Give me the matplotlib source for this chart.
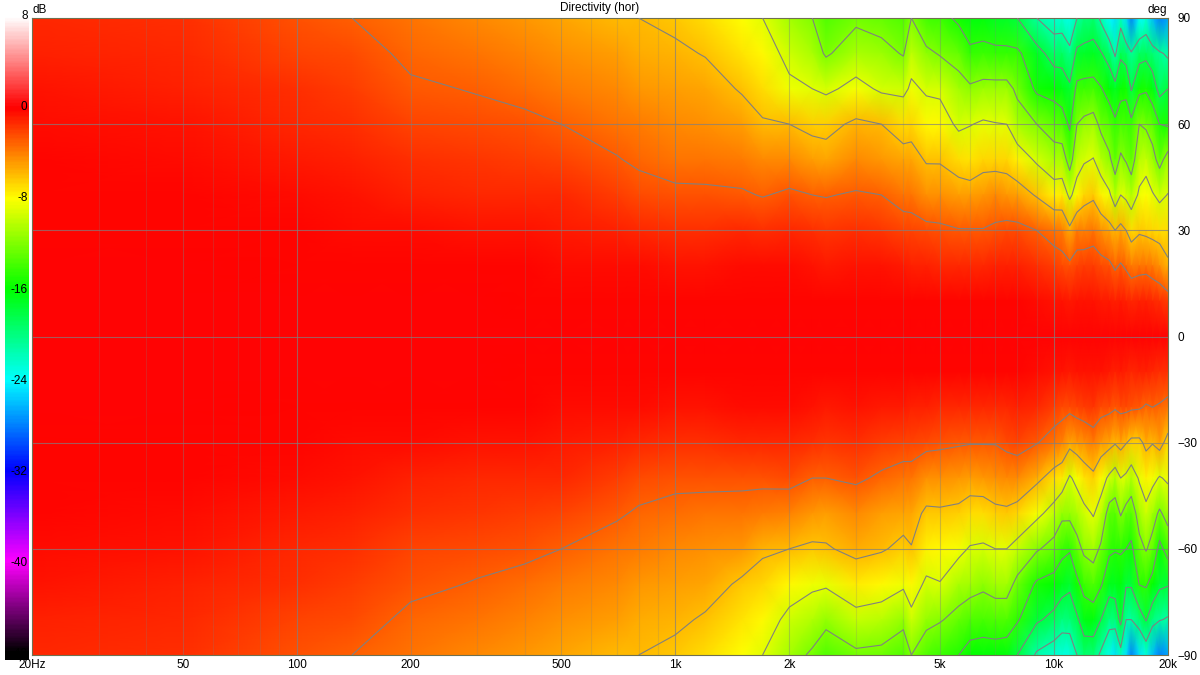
import numpy as np
import matplotlib
matplotlib.use('Agg')
import matplotlib.pyplot as plt
from matplotlib.colors import LinearSegmentedColormap, Normalize

plt.rcParams['font.family'] = ['Liberation Sans', 'DejaVu Sans']

angles = [90, 80, 70, 60, 50, 40, 30, 20, 10, 0, -10, -20, -30, -40, -50, -60, -70, -80, -90]

# dB per frequency, top of the plot (90 deg) to bottom (-90 deg)
db_20 = [-1.2, -1.0, -0.7, -0.5, -0.3, -0.2, -0.1, -0.05, 0, 0, 0, -0.05, -0.1, -0.2, -0.3, -0.5, -0.7, -1.0, -1.2]
db_50 = [-1.6, -1.3, -1.0, -0.7, -0.45, -0.3, -0.15, -0.05, 0, 0, 0, -0.05, -0.15, -0.3, -0.45, -0.7, -1.0, -1.3, -1.6]
db_100 = [-2.6, -2.1, -1.6, -1.2, -0.8, -0.5, -0.25, -0.1, 0, 0, 0, -0.1, -0.25, -0.5, -0.8, -1.2, -1.6, -2.1, -2.6]
db_140 = [-3.0, -2.5, -2.0, -1.5, -1.0, -0.7, -0.35, -0.15, -0.05, 0, -0.05, -0.15, -0.35, -0.7, -1.0, -1.5, -2.0, -2.5, -3.0]
db_200 = [-3.7, -3.3, -2.8, -2.1, -1.5, -1.0, -0.5, -0.2, -0.05, 0, -0.05, -0.2, -0.5, -1.0, -1.5, -2.1, -2.7, -3.3, -3.7]
db_300 = [-4.4, -3.8, -3.1, -2.5, -1.8, -1.2, -0.6, -0.25, -0.05, 0, -0.05, -0.25, -0.6, -1.2, -1.8, -2.5, -3.1, -3.8, -4.4]
db_400 = [-4.9, -4.2, -3.4, -2.7, -2.0, -1.3, -0.7, -0.3, -0.1, 0, -0.1, -0.3, -0.7, -1.3, -2.0, -2.7, -3.4, -4.2, -4.9]
db_500 = [-5.3, -4.6, -3.9, -3.0, -2.2, -1.4, -0.8, -0.35, -0.1, 0, -0.1, -0.35, -0.8, -1.4, -2.2, -3.0, -3.9, -4.6, -5.3]
db_700 = [-5.8, -5.1, -4.4, -3.7, -2.9, -1.9, -1.0, -0.4, -0.1, 0, -0.1, -0.4, -1.0, -1.9, -2.8, -3.7, -4.4, -5.1, -5.8]
db_800 = [-6.0, -5.4, -4.7, -4.0, -3.3, -2.3, -1.2, -0.5, -0.1, 0, -0.1, -0.5, -1.2, -2.3, -3.2, -4.0, -4.7, -5.4, -6.0]
db_1k = [-6.4, -5.7, -5.0, -4.3, -3.6, -2.7, -1.5, -0.6, -0.15, 0, -0.15, -0.6, -1.5, -2.6, -3.5, -4.3, -5.0, -5.7, -6.4]
db_1k2 = [-7.0, -6.1, -5.2, -4.5, -3.7, -2.7, -1.5, -0.6, -0.15, 0, -0.15, -0.6, -1.5, -2.6, -3.6, -4.5, -5.3, -6.2, -7.0]
db_1k5 = [-8.0, -7.1, -6.2, -5.0, -3.9, -2.8, -1.4, -0.5, -0.15, 0, -0.15, -0.5, -1.4, -2.6, -3.7, -4.9, -6.3, -7.2, -8.0]
db_1k7 = [-9.0, -7.9, -6.9, -5.8, -4.3, -3.1, -1.5, -0.5, -0.15, 0, -0.15, -0.5, -1.4, -2.6, -3.9, -5.7, -6.8, -7.9, -9.0]
db_2k = [-11.0, -9.7, -8.5, -6.0, -4.3, -2.7, -1.2, -0.4, -0.1, 0, -0.1, -0.4, -1.2, -2.5, -4.1, -6.0, -7.9, -9.6, -11.0]
db_2k3 = [-12.0, -10.8, -9.0, -6.5, -5.0, -3.0, -1.6, -0.6, -0.2, 0, -0.2, -0.6, -1.6, -3.0, -4.8, -6.3, -8.6, -10.4, -12.4]
db_2k5 = [-13.5, -12.3, -9.5, -6.6, -5.2, -3.1, -1.8, -0.8, -0.2, 0, -0.2, -0.8, -1.8, -3.0, -5.0, -6.2, -8.7, -11.4, -13.5]
db_3k = [-12.5, -10.6, -8.2, -5.6, -4.4, -2.8, -1.5, -0.7, -0.2, 0, -0.2, -0.7, -1.5, -2.7, -4.3, -5.4, -7.5, -9.8, -12.5]
db_3k5 = [-13.0, -11.2, -9.4, -6.0, -4.9, -3.0, -1.7, -0.7, -0.2, 0, -0.2, -0.8, -1.9, -3.3, -5.0, -5.8, -7.8, -10.2, -12.7]
db_4k = [-13.5, -12.2, -9.6, -7.0, -5.2, -3.7, -2.2, -0.9, -0.2, 0, -0.2, -0.9, -2.2, -3.7, -5.2, -6.5, -8.6, -11.4, -13.5]
db_4k2 = [-12.0, -10.0, -8.6, -6.8, -5.2, -3.8, -2.2, -1.0, -0.2, 0, -0.2, -1.0, -2.2, -3.7, -5.2, -6.1, -7.9, -9.6, -12.0]
db_4k6 = [-14.0, -11.5, -9.3, -7.8, -6.2, -4.5, -2.5, -1.1, -0.2, 0, -0.2, -1.1, -2.5, -4.5, -6.4, -7.7, -9.4, -11.3, -13.6]
db_5k = [-14.2, -12.2, -9.5, -7.8, -6.2, -4.6, -2.6, -1.2, -0.2, 0, -0.2, -1.2, -2.6, -4.6, -6.3, -7.8, -9.1, -11.8, -14.2]
db_5k6 = [-15.5, -13.0, -11.0, -9.5, -7.0, -5.0, -2.9, -1.3, -0.3, 0, -0.3, -1.3, -2.8, -4.7, -6.5, -8.4, -10.7, -12.8, -15.0]
db_6k = [-16.5, -14.5, -11.6, -9.1, -7.3, -5.1, -2.9, -1.3, -0.3, 0, -0.3, -1.3, -2.9, -5.0, -7.0, -9.2, -11.0, -13.6, -16.0]
db_6k5 = [-16.5, -14.2, -11.2, -8.7, -6.7, -4.8, -2.9, -1.3, -0.3, 0, -0.3, -1.3, -2.9, -4.9, -7.0, -9.4, -11.5, -13.8, -16.2]
db_7k = [-17.0, -14.4, -11.2, -8.9, -6.8, -4.4, -2.6, -1.1, -0.3, 0, -0.3, -1.3, -2.9, -4.6, -6.5, -9.0, -11.0, -13.5, -16.2]
db_7k5 = [-17.2, -14.4, -11.2, -9.0, -6.8, -4.8, -2.3, -1.0, -0.3, 0, -0.3, -1.2, -2.5, -4.4, -6.4, -9.0, -11.0, -13.5, -16.5]
db_8k = [-18.0, -14.5, -12.5, -10.8, -7.6, -5.0, -2.4, -1.0, -0.3, 0, -0.3, -1.0, -2.2, -4.4, -6.8, -9.9, -12.7, -14.7, -18.0]
db_9k = [-21.0, -17.0, -15.5, -12.0, -9.4, -6.2, -3.0, -1.5, -0.4, 0, -0.4, -1.4, -2.9, -5.5, -8.4, -11.7, -15.4, -17.6, -21.4]
db_10k = [-22.5, -19.2, -16.0, -13.2, -10.8, -7.6, -3.8, -2.0, -0.6, 0, -0.6, -2.0, -3.8, -6.9, -10.0, -13.0, -16.0, -18.8, -22.5]
db_10k5 = [-22.5, -19.0, -16.6, -13.6, -10.7, -7.5, -4.0, -2.3, -0.7, 0, -0.7, -2.3, -4.2, -7.4, -11.4, -14.2, -16.9, -19.8, -23.0]
db_11k = [-23.5, -20.3, -17.5, -15.4, -13.1, -9.5, -5.5, -2.6, -0.8, 0, -0.8, -2.5, -5.3, -9.3, -11.3, -14.7, -17.5, -19.7, -23.0]
db_11k5 = [-21.0, -17.4, -14.3, -12.0, -10.1, -7.9, -4.0, -2.2, -0.7, 0, -0.7, -2.2, -4.8, -8.3, -10.6, -12.9, -15.6, -18.4, -21.0]
db_12k = [-20.0, -17.2, -14.1, -11.4, -9.3, -6.8, -4.2, -2.0, -0.6, 0, -0.6, -2.0, -4.5, -7.2, -9.7, -11.5, -14.1, -16.7, -19.5]
db_12k7 = [-19.5, -17.0, -14.0, -11.0, -8.9, -6.4, -3.8, -2.0, -0.7, 0, -0.6, -1.8, -3.9, -6.5, -8.8, -11.0, -13.5, -16.4, -19.7]
db_13k3 = [-21.5, -17.8, -14.8, -12.6, -10.2, -7.6, -4.6, -2.3, -0.8, 0, -0.7, -2.3, -4.7, -7.9, -10.1, -12.4, -14.7, -18.0, -21.5]
db_14k = [-24.0, -19.2, -16.1, -13.4, -11.6, -8.6, -5.2, -2.6, -0.8, 0, -0.8, -2.5, -5.2, -9.5, -13.1, -14.5, -16.9, -20.0, -23.5]
db_14k5 = [-25.0, -21.4, -17.1, -14.5, -13.1, -10.5, -6.0, -3.3, -1.0, 0, -1.0, -2.8, -5.8, -10.4, -13.3, -14.8, -16.9, -19.6, -25.0]
db_15k = [-22.0, -18.5, -15.7, -13.7, -11.6, -9.0, -5.3, -2.8, -0.9, 0, -0.9, -2.5, -5.2, -9.0, -11.8, -14.7, -16.5, -17.3, -22.0]
db_15k5 = [-25.0, -19.3, -15.5, -13.9, -12.2, -9.5, -6.0, -3.3, -1.0, 0, -1.0, -2.5, -5.9, -9.5, -12.9, -15.0, -17.7, -21.0, -25.0]
db_16k = [-28.0, -20.7, -18.2, -14.3, -13.2, -10.4, -7.0, -4.0, -1.2, 0, -1.2, -2.7, -6.5, -10.5, -13.4, -15.5, -17.7, -21.0, -28.0]
db_16k8 = [-24.0, -19.0, -15.6, -12.0, -10.3, -8.6, -6.3, -3.7, -1.1, 0, -1.1, -2.8, -6.5, -8.7, -10.9, -12.8, -14.9, -19.5, -25.0]
db_17k5 = [-23.0, -18.7, -15.3, -12.4, -9.9, -8.0, -6.5, -3.6, -1.1, 0, -1.1, -3.2, -5.5, -7.6, -9.7, -11.8, -14.7, -17.8, -23.0]
db_18k2 = [-26.0, -19.6, -16.5, -13.1, -11.2, -8.8, -6.7, -4.0, -1.3, 0, -1.3, -3.0, -5.9, -8.3, -11.0, -12.9, -16.0, -19.8, -26.0]
db_19k = [-28.0, -20.6, -18.9, -15.0, -12.8, -9.6, -6.9, -4.5, -1.5, 0, -1.5, -3.2, -5.1, -9.2, -12.4, -15.8, -17.5, -20.8, -28.0]
db_20k = [-27.0, -21.5, -18.0, -15.3, -11.0, -8.9, -7.0, -5.7, -2.0, 0, -1.6, -3.6, -6.9, -8.6, -11.0, -13.8, -17.8, -21.3, -27.0]

freqs = [20, 50, 100, 140, 200, 300, 400, 500, 700, 800, 1000, 1200, 1500, 1700, 2000, 2300, 2500,
         3000, 3500, 4000, 4200, 4600, 5000, 5600, 6000, 6500, 7000, 7500, 8000, 9000, 10000, 10500,
         11000, 11500, 12000, 12700, 13300, 14000, 14500, 15000, 15500, 16000, 16800, 17500, 18200,
         19000, 20000]
db = np.column_stack([db_20, db_50, db_100, db_140, db_200, db_300, db_400, db_500, db_700, db_800,
                      db_1k, db_1k2, db_1k5, db_1k7, db_2k, db_2k3, db_2k5, db_3k, db_3k5, db_4k,
                      db_4k2, db_4k6, db_5k, db_5k6, db_6k, db_6k5, db_7k, db_7k5, db_8k, db_9k,
                      db_10k, db_10k5, db_11k, db_11k5, db_12k, db_12k7, db_13k3, db_14k, db_14k5,
                      db_15k, db_15k5, db_16k, db_16k8, db_17k5, db_18k2, db_19k, db_20k])

contour_levels = [-21, -18, -15, -12, -9, -6, -3]
x_ticks = [20, 50, 100, 200, 500, 1000, 2000, 5000, 10000, 20000]
x_labels = ['20Hz', '50', '100', '200', '500', '1k', '2k', '5k', '10k', '20k']
y_ticks = [90, 60, 30, 0, -30, -60, -90]
minor_freqs = [30, 40, 60, 70, 80, 90, 300, 400, 600, 700, 800, 900, 3000, 4000, 6000, 7000, 8000, 9000]
cbar_ticks = [8, 0, -8, -16, -24, -32, -40, -48]

W, H = 1200, 675
vmin, vmax = -48, 8

# same stops as the scale bar on the left
stops = [(-48, '#000000'), (-40, '#ff00ff'), (-32, '#0000ff'), (-24, '#00ffff'),
         (-16, '#00ff00'), (-8, '#ffff00'), (0, '#ff0000'), (8, '#ffffff')]
cmap = LinearSegmentedColormap.from_list('directivity', [((v - vmin) / (vmax - vmin), c) for v, c in stops])
norm = Normalize(vmin, vmax)

fig = plt.figure(figsize=(12, 6.75), dpi=100)
ax = fig.add_axes([32 / W, 1 - 655 / H, (1168 - 32) / W, (655 - 18) / H])

ax.pcolormesh(freqs, angles, db, cmap=cmap, norm=norm, shading='gouraud', zorder=1)
ax.contour(freqs, angles, db, levels=contour_levels, colors='#808080', linewidths=0.8,
           linestyles='solid', zorder=3)

ax.set_xscale('log')
ax.set_xlim(20, 20000)
ax.set_ylim(-90, 90)

ax.xaxis.set_major_locator(plt.NullLocator())
ax.xaxis.set_minor_locator(plt.NullLocator())
ax.set_xticks(x_ticks)
ax.set_xticklabels(x_labels)
ax.set_yticks(y_ticks)
ax.yaxis.tick_right()
ax.tick_params(length=0, labelsize=8.5, pad=3, colors='black')
ax.tick_params(axis='y', pad=7)

for f in [100, 1000, 10000]:
    ax.axvline(f, color='#808080', lw=0.8, alpha=0.7, zorder=2)
for f in [50, 200, 500, 2000, 5000]:
    ax.axvline(f, color='#808080', lw=0.8, alpha=0.4, zorder=2)
for f in minor_freqs:
    ax.axvline(f, color='#808080', lw=0.8, alpha=0.22, zorder=2)
for a in y_ticks[1:-1]:
    ax.axhline(a, color='#808080', lw=0.8, alpha=0.7, zorder=2)

for s in ax.spines.values():
    s.set_color('#707050')
    s.set_linewidth(0.8)

fig.text(600 / W, 1 - 8 / H, 'Directivity (hor)', ha='center', va='center', fontsize=8.5)
fig.text(40 / W, 1 - 10 / H, 'dB', ha='center', va='center', fontsize=8.5)
fig.text(1157 / W, 1 - 10 / H, 'deg', ha='center', va='center', fontsize=8.5)

# scale bar
cax = fig.add_axes([5 / W, 1 - 660 / H, 24 / W, (660 - 16) / H])
levels = np.linspace(vmax, vmin, 400)
cax.imshow(levels[:, None], cmap=cmap, norm=norm, aspect='auto', extent=[0, 1, vmin, vmax], zorder=1)
cax.set_ylim(vmin - 0.5, vmax)
cax.set_facecolor('black')
cax.set_xticks([])
cax.set_yticks([])
for s in cax.spines.values():
    s.set_visible(False)
for v in cbar_ticks:
    cax.text(0.94, v, str(v), ha='right', va='center', fontsize=8.5, clip_on=False)

fig.savefig('out.png', dpi=100)
